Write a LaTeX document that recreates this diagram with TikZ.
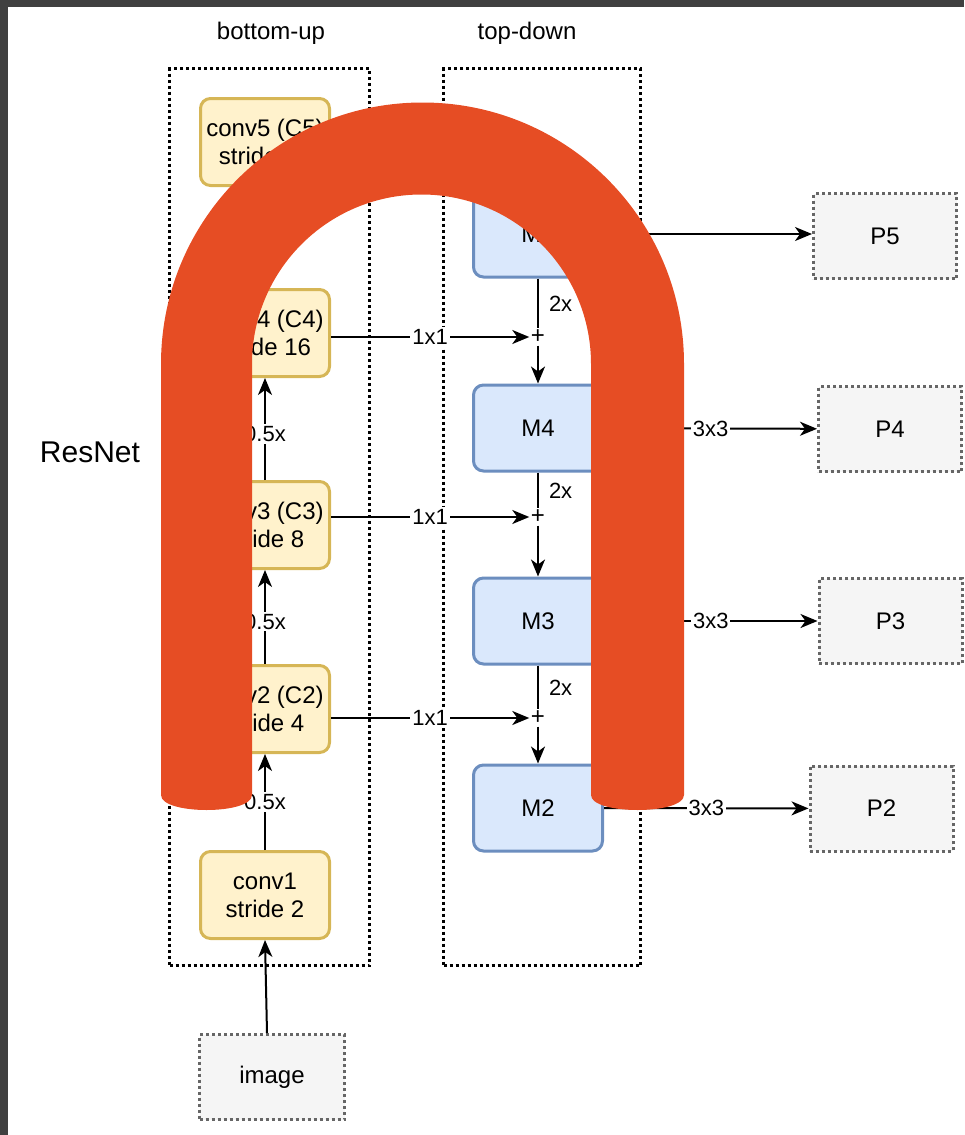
\documentclass[tikz,border=0pt]{standalone}
\usepackage{fontspec}
\setmainfont{Liberation Sans}
\usepackage{tikz}
\usetikzlibrary{arrows.meta, positioning, calc}
\definecolor{convcolor}{RGB}{255,242,204}
\definecolor{convborder}{RGB}{214,182,86}
\definecolor{mapcolor}{RGB}{218,232,252}
\definecolor{mapborder}{RGB}{108,142,191}
\definecolor{outcolor}{RGB}{245,245,245}
\definecolor{outborder}{RGB}{102,102,102}
\definecolor{archcolor}{RGB}{230,77,36}
\definecolor{framecolor}{RGB}{64,64,64}

\begin{document}
\begin{tikzpicture}[x=1pt, y=-1pt,
  % Node styles
  convbox/.style={
    rectangle,
    rounded corners=10pt,
    draw=convborder,
    line width=3pt,
    fill=convcolor,
    minimum width=129pt,
    minimum height=87pt,
    align=center,
    font=\fontsize{24}{28}\selectfont,
    inner sep=0pt
  },
  mapbox/.style={
    rectangle,
    rounded corners=10pt,
    draw=mapborder,
    line width=3pt,
    fill=mapcolor,
    minimum width=129pt,
    minimum height=86pt,
    align=center,
    font=\fontsize{24}{28}\selectfont,
    inner sep=0pt
  },
  outbox/.style={
    rectangle,
    draw=outborder,
    line width=3pt,
    dash pattern=on 3pt off 3pt,
    fill=outcolor,
    minimum width=143pt,
    minimum height=85pt,
    font=\fontsize{24}{28}\selectfont
  },
  groupbox/.style={
    rectangle,
    draw=black,
    line width=3.2pt,
    dash pattern=on 3pt off 3pt
  },
  addnode/.style={inner sep=1.5pt, font=\fontsize{24}{24}\selectfont},
  edgelabel/.style={fill=white, inner sep=2pt, font=\fontsize{22}{24}\selectfont},
  sidelabel/.style={inner sep=2pt, font=\fontsize{22}{24}\selectfont},
  title/.style={font=\fontsize{24}{28}\selectfont},
  arrow/.style={
    -{Stealth[length=17pt, width=14pt, inset=5pt]},
    line width=2pt
  },
  link/.style={line width=2pt}
]
\useasboundingbox (0,0) rectangle (964,1135);

% ===== WINDOW FRAME =====
\fill[framecolor] (0,0) rectangle (964,7);
\fill[framecolor] (0,0) rectangle (8,1135);

% ===== GROUPS =====
\node[groupbox, minimum width=200pt, minimum height=897pt] (bugroup) at (269.5,517) {};
\node[groupbox, minimum width=197pt, minimum height=897pt] (tdgroup) at (542,517) {};
\node[title] (bu) at (271,33) {bottom-up};
\node[title] (td) at (527,33) {top-down};

% ===== BOTTOM-UP (ResNet stages) =====
\node[convbox] (conv5) at (265,142) {conv5 (C5)\\stride 32};
\node[convbox] (conv4) at (265,333) {conv4 (C4)\\stride 16};
\node[convbox] (conv3) at (265,525) {conv3 (C3)\\stride 8};
\node[convbox] (conv2) at (265,709) {conv2 (C2)\\stride 4};
\node[convbox] (conv1) at (265,895) {conv1\\stride 2};

\node[outbox, minimum width=145pt] (image) at (272,1077) {image};

% ===== TOP-DOWN (merged maps) =====
\node[mapbox] (m5) at (538,234) {M5};
\node[mapbox] (m4) at (538,428) {M4};
\node[mapbox] (m3) at (538,621) {M3};
\node[mapbox] (m2) at (538,808) {M2};

\node[addnode] (add4) at (538,337) {+};
\node[addnode] (add3) at (538,517) {+};
\node[addnode] (add2) at (538,718) {+};

% ===== OUTPUTS =====
\node[outbox] (p5) at (885,236) {P5};
\node[outbox] (p4) at (890,429) {P4};
\node[outbox] (p3) at (890.5,621) {P3};
\node[outbox] (p2) at (881.5,808.5) {P2};

% ===== ARROWS: bottom-up path =====
\draw[arrow] ([xshift=-5pt]image.north) -- (conv1.south);
\draw[arrow] (conv1) -- node[edgelabel] {0.5x} (conv2);
\draw[arrow] (conv2) -- node[edgelabel, pos=0.45] {0.5x} (conv3);
\draw[arrow] (conv3) -- node[edgelabel, pos=0.45] {0.5x} (conv4);
\draw[arrow] (conv4) -- node[edgelabel, pos=0.7] {0.5x} (conv5);

% ===== ARROWS: lateral 1x1 connections =====
\draw[arrow] (conv4.east |- add4) -- node[edgelabel] {1x1} (add4.west);
\draw[arrow] (conv3.east |- add3) -- node[edgelabel] {1x1} (add3.west);
\draw[arrow] (conv2.east |- add2) -- node[edgelabel] {1x1} (add2.west);

% ===== ARROWS: top-down upsampling =====
\draw[link] (m5) -- node[sidelabel, right=8pt, midway] {2x} (add4);
\draw[arrow] (add4) -- (m4);
\draw[link] (m4) -- node[sidelabel, right=8pt, midway] {2x} (add3);
\draw[arrow] (add3) -- (m3);
\draw[link] (m3) -- node[sidelabel, right=8pt, midway] {2x} (add2);
\draw[arrow] (add2) -- (m2);

% ===== ARROWS: 3x3 output convs =====
\draw[arrow] (m5.east) -- (m5.east -| p5.west);
\draw[arrow] (m4) -- node[edgelabel] {3x3} (p4);
\draw[arrow] (m3) -- node[edgelabel] {3x3} (p3);
\draw[arrow] (m2) -- node[edgelabel] {3x3} (p2);

% ===== ResNet arch =====
\fill[archcolor] (161,795) -- (161,364) arc[start angle=180, end angle=0, radius=261.5pt]
  -- (684,795) .. controls (684,815) and (591,815) .. (591,795)
  -- (591,364) arc[start angle=0, end angle=180, radius=169.5pt]
  -- (252,795) .. controls (252,815) and (161,815) .. cycle;
\node[font=\fontsize{30}{34}\selectfont] (resnet) at (90,452) {ResNet};

\end{tikzpicture}
\end{document}
